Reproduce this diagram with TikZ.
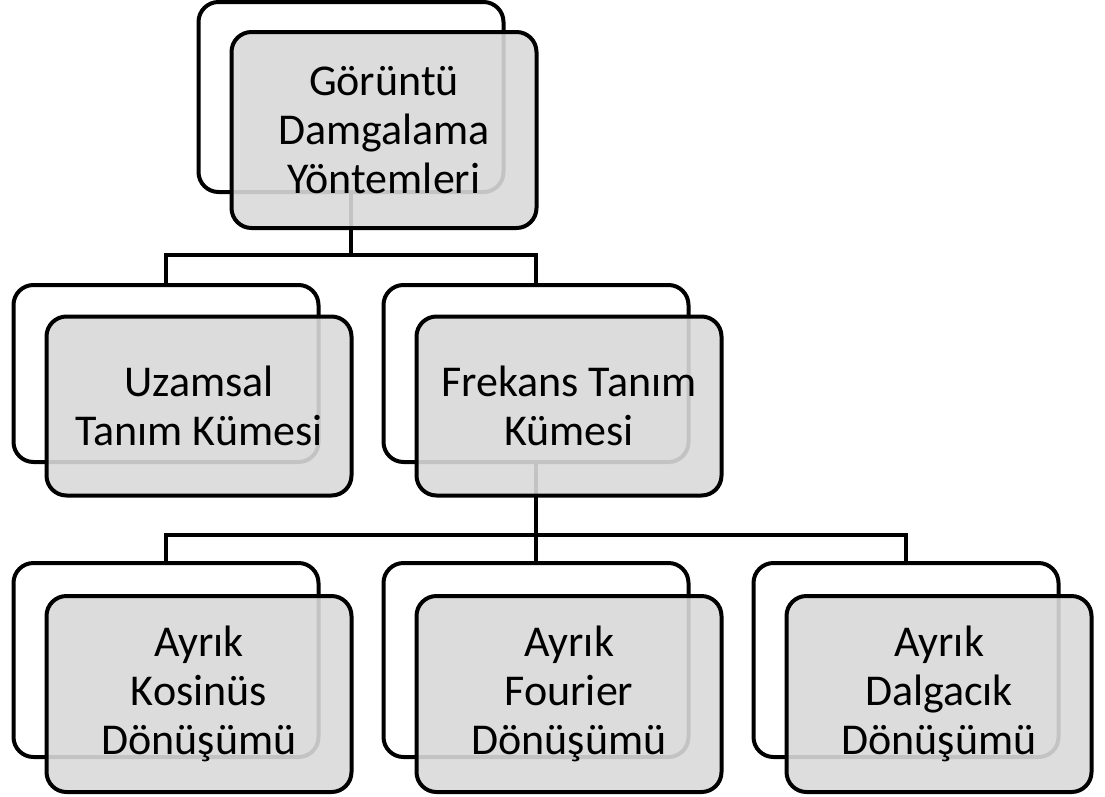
\documentclass[tikz,border=0pt]{standalone}
\usepackage{fontspec}
\setmainfont{Carlito}
\definecolor{boxgray}{RGB}{217,217,217}
\begin{document}
\begin{tikzpicture}[x=0.75pt,y=-0.75pt,line width=3pt,
    backbox/.style={draw,rounded corners=15pt,fill=white,minimum width=228.75pt,inner sep=0pt},
    frontbox/.style={backbox,fill=boxgray,fill opacity=0.9,text opacity=1,align=center,
        font=\fontsize{33}{36.5}\selectfont}]
\useasboundingbox (0,0) rectangle (1105,796);
\node[backbox,minimum height=142.5pt] (root) at (351,97) {};
\node[backbox,minimum height=132.75pt] (uzam) at (166,373.5) {};
\node[backbox,minimum height=132.75pt] (frek) at (536,373.5) {};
\foreach \n/\x in {kos/166,fou/536,dal/906}
    \node[backbox,minimum height=145.5pt] (\n) at (\x,660) {};
\coordinate (bus1) at (351,255);
\coordinate (bus2) at (536,535);
\draw (root.south) -- (bus1) -| (uzam.north);
\draw (bus1) -| (frek.north);
\draw (frek.south) -- (bus2) -| (kos.north);
\draw (bus2) -| (fou.north);
\draw (bus2) -| (dal.north);
\node[frontbox,minimum height=147pt] (rootf) at (384,130) {Görüntü\\Damgalama\\Yöntemleri};
\node[frontbox,minimum height=134.25pt] (uzamf) at (199,406) {Uzamsal\\Tanım Kümesi};
\node[frontbox,minimum height=134.25pt] (frekf) at (569,406) {Frekans Tanım\\Kümesi};
\foreach \n/\x/\t in {kos/166/Kosinüs,fou/536/Fourier,dal/906/Dalgacık}
    \node[frontbox,minimum height=147pt] (\n f) at (\x+33,694) {Ayrık\\\t\\Dönüşümü};
\end{tikzpicture}
\end{document}
